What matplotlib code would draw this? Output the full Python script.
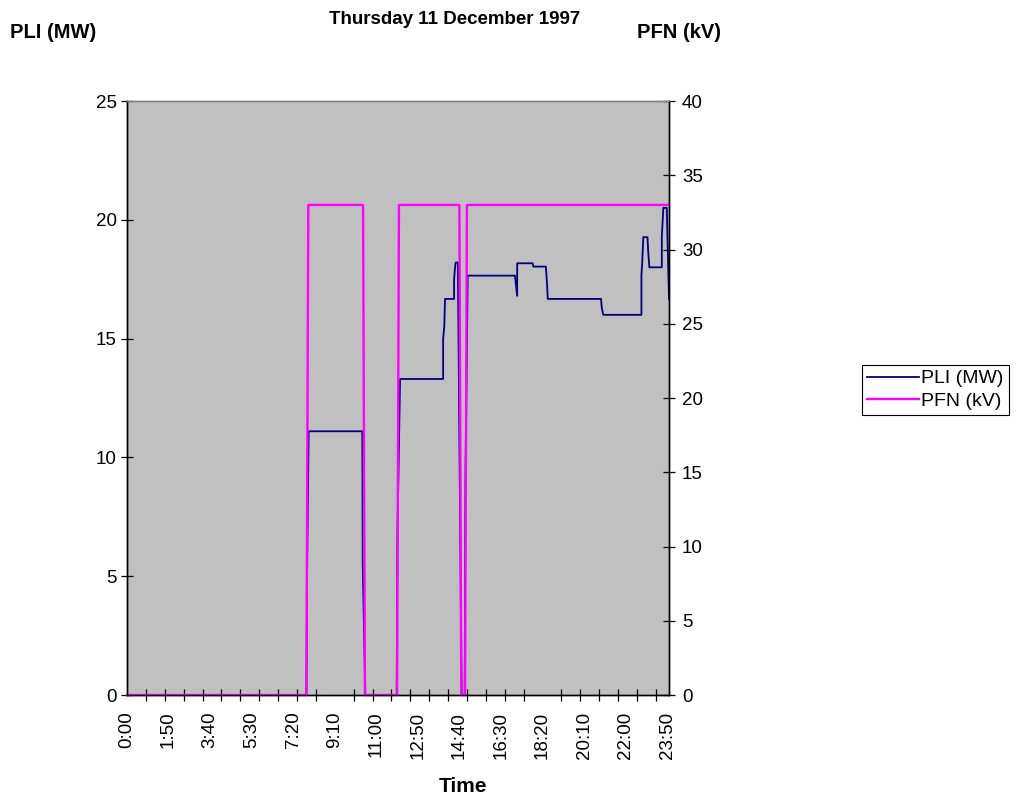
import matplotlib
matplotlib.use("Agg")
import matplotlib.pyplot as plt
from matplotlib.ticker import FixedLocator, MultipleLocator

plt.rcParams['font.family'] = ['Liberation Sans', 'DejaVu Sans']

# minutes after midnight (5-minute samples, 0:00 .. 23:55)
pli_t = [0, 475, 477, 481, 623, 624, 631, 714, 716, 723, 837, 837, 840, 842,
         866, 866, 868, 870, 876, 886, 894, 896, 902, 1027, 1033, 1033, 1074,
         1076, 1109, 1112, 1114, 1255, 1257, 1261, 1362, 1362, 1364, 1367, 1378,
         1380, 1383, 1416, 1416, 1420, 1429, 1435]
pli_v = [0, 0, 5.6, 11.1, 11.1, 5.6, 0, 0, 6.8, 13.3, 13.3, 15.0, 15.5, 16.67,
         16.67, 17.47, 17.9, 18.2, 18.2, 0, 0, 9.0, 17.65, 17.65, 16.8, 18.17, 18.17,
         18.03, 18.03, 17.33, 16.67, 16.67, 16.3, 16.0, 16.0, 17.68, 18.17, 19.27, 19.27,
         18.66, 18.0, 18.0, 19.29, 20.5, 20.5, 16.67]

pfn_t = [0, 475, 480, 625, 630, 715, 720, 880, 885, 895, 900, 1435]
pfn_v = [0, 0, 33, 33, 0, 0, 33, 33, 0, 0, 33, 33]

label_pos = list(range(0, 1431, 110))
labels = ["%d:%02d" % (m // 60, m % 60) for m in label_pos]

fig = plt.figure(figsize=(10.35, 7.98), dpi=100)
ax = fig.add_axes([127 / 1035, 103 / 798, 542 / 1035, 594 / 798])
ax.set_facecolor("#C0C0C0")
ax2 = ax.twinx()

l1, = ax.plot(pli_t, pli_v, color="#000080", lw=1.3, clip_on=False, label="PLI (MW)")
l2, = ax2.plot(pfn_t, pfn_v, color="#FF00FF", lw=1.7, clip_on=False, label="PFN (kV)")

ax.set_xlim(0, 1435)
ax.set_ylim(0, 25)
ax2.set_ylim(0, 40)
ax.yaxis.set_major_locator(MultipleLocator(5))
ax2.yaxis.set_major_locator(MultipleLocator(5))

ax.xaxis.set_major_locator(FixedLocator(label_pos))
ax.set_xticklabels(labels, rotation=90, fontsize=13.5)
ax.xaxis.set_minor_locator(MultipleLocator(50))
ax.tick_params(axis="x", which="major", length=0, pad=12)
ax.tick_params(axis="x", which="minor", direction="inout", length=8.5, width=0.9)
ax.tick_params(axis="y", direction="inout", length=8.5, width=0.9, labelsize=13.5, pad=3)
ax2.tick_params(axis="y", direction="inout", length=8.5, width=0.9, labelsize=13.5, pad=5)

for a in (ax, ax2):
    for s in ("left", "bottom", "right"):
        a.spines[s].set_color("black")
        a.spines[s].set_linewidth(1.0)
    a.spines["top"].set_color("#808080")
    a.spines["top"].set_linewidth(1.0)

fig.text(455 / 1035, 1 - 20 / 798, "Thursday 11 December 1997", ha="center", va="center",
         fontsize=13.5, fontweight="bold")
fig.text(10 / 1035, 1 - 32 / 798, "PLI (MW)", ha="left", va="center", fontsize=14.5, fontweight="bold")
fig.text(637 / 1035, 1 - 32 / 798, "PFN (kV)", ha="left", va="center", fontsize=14.5, fontweight="bold")
fig.text(463 / 1035, 1 - 786 / 798, "Time", ha="center", va="center", fontsize=15, fontweight="bold")

# legend sits against the right edge and is cut off there, as in the original
leg = fig.legend(handles=[l1, l2], loc="upper left", bbox_to_anchor=(862 / 1035, 1 - 365 / 798),
                 fontsize=14, frameon=True, fancybox=False, framealpha=1, edgecolor="black",
                 handlelength=2.7, handletextpad=0.1, borderpad=0.25, labelspacing=0.25,
                 borderaxespad=0)
leg.get_frame().set_linewidth(0.8)

fig.savefig("out.png", dpi=100)
